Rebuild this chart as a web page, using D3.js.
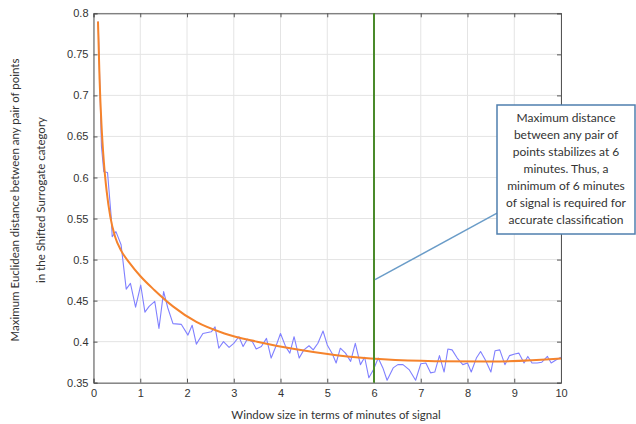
<!DOCTYPE html>
<html><head><meta charset="utf-8">
<script src="https://cdn.jsdelivr.net/npm/d3@7"></script>
<style>body{margin:0;background:#fff}svg{display:block}</style>
</head><body><svg id="c" width="636" height="424"></svg>
<script>
const blueX = [0.10,0.17,0.22,0.30,0.38,0.40,0.48,0.59,0.70,0.79,0.90,1.01,1.10,1.19,1.31,1.40,1.50,1.59,1.70,1.88,2.02,2.11,2.20,2.34,2.52,2.60,2.68,2.78,2.90,3.00,3.11,3.20,3.29,3.40,3.48,3.59,3.70,3.80,3.90,4.00,4.11,4.20,4.29,4.40,4.50,4.61,4.70,4.80,4.91,5.00,5.11,5.19,5.28,5.39,5.50,5.60,5.71,5.80,5.89,5.99,6.09,6.19,6.28,6.41,6.51,6.62,6.75,6.89,7.00,7.11,7.21,7.30,7.40,7.50,7.58,7.67,7.78,7.90,8.00,8.08,8.19,8.28,8.38,8.50,8.59,8.69,8.80,8.90,9.01,9.10,9.21,9.29,9.38,9.49,9.59,9.71,9.79,9.90,10.00];
const blueY = [0.790,0.638,0.607,0.606,0.551,0.528,0.534,0.518,0.464,0.471,0.442,0.469,0.436,0.443,0.449,0.416,0.461,0.441,0.422,0.421,0.408,0.420,0.397,0.410,0.412,0.418,0.392,0.400,0.393,0.398,0.406,0.394,0.403,0.400,0.391,0.394,0.404,0.380,0.394,0.410,0.394,0.386,0.406,0.380,0.390,0.395,0.390,0.398,0.413,0.396,0.385,0.374,0.392,0.386,0.376,0.398,0.372,0.381,0.356,0.366,0.380,0.368,0.353,0.368,0.372,0.372,0.366,0.353,0.373,0.374,0.362,0.363,0.383,0.363,0.391,0.390,0.380,0.372,0.374,0.363,0.380,0.388,0.378,0.363,0.389,0.390,0.372,0.383,0.385,0.386,0.374,0.382,0.374,0.374,0.375,0.382,0.374,0.378,0.381];
const fitX = [0.096,0.13,0.17,0.22,0.28,0.36,0.46,0.60,0.77,1.0,1.3,1.7,2.2,2.8,3.5,4.3,5.2,6.2,7.3,8.5,10];
const fitY = [0.790,0.720,0.665,0.620,0.584,0.552,0.528,0.510,0.496,0.480,0.463,0.443,0.424,0.410,0.400,0.391,0.3835,0.3785,0.3762,0.3757,0.3795];
const xTicks = [0,1,2,3,4,5,6,7,8,9,10];
const yTicks = [0.35,0.4,0.45,0.5,0.55,0.6,0.65,0.7,0.75,0.8];
const thresholdX = 6;
const noteLines = ["Maximum distance","between any pair of","points stabilizes at 6","minutes. Thus, a","minimum of 6 minutes","of signal is required for","accurate classification"];
const xLabel = "Window size in terms of minutes of signal";
const yLabel = ["Maximum Euclidean distance between any pair of points","in the Shifted Surrogate category"];

const svg = d3.select("#c");
const L=93.5, R=561, T=13.3, B=382.7;
const x = d3.scaleLinear().domain([0,10]).range([L,R]);
const y = d3.scaleLinear().domain([0.35,0.8]).range([B,T]);

// grid
const g = svg.append("g");
g.selectAll(".gx").data(xTicks).join("line")
 .attr("x1",d=>x(d)).attr("x2",d=>x(d)).attr("y1",T).attr("y2",B)
 .attr("stroke","#e4e4e4").attr("stroke-width",1);
g.selectAll(".gy").data(yTicks).join("line")
 .attr("y1",d=>y(d)).attr("y2",d=>y(d)).attr("x1",L).attr("x2",R)
 .attr("stroke","#e4e4e4").attr("stroke-width",1);

// axes
const axStyle = sel => { sel.select(".domain").attr("stroke","#555"); sel.selectAll(".tick line").attr("stroke","#555");
  sel.selectAll("text").attr("font-family","Liberation Sans, Arial, sans-serif").attr("font-size",11).attr("fill","#333"); };
svg.append("g").attr("transform",`translate(0,${B})`)
 .call(d3.axisBottom(x).tickValues(xTicks).tickSize(-4).tickPadding(7).tickFormat(d3.format("d"))).call(axStyle);
svg.append("g").attr("transform",`translate(0,${T})`)
 .call(d3.axisTop(x).tickValues(xTicks).tickSize(-4).tickFormat("")).call(axStyle);
svg.append("g").attr("transform",`translate(${L},0)`)
 .call(d3.axisLeft(y).tickValues(yTicks).tickSize(-4).tickPadding(5).tickFormat(d=>d3.format("")(+d.toFixed(2)))).call(axStyle);
svg.append("g").attr("transform",`translate(${R},0)`)
 .call(d3.axisRight(y).tickValues(yTicks).tickSize(-4).tickFormat("")).call(axStyle);
svg.selectAll(".domain").attr("stroke-width",1);

// blue data
const blue = blueX.map((v,i)=>[v,blueY[i]]);
svg.append("path").datum(blue)
 .attr("d",d3.line().x(d=>x(d[0])).y(d=>y(d[1])))
 .attr("fill","none").attr("stroke","#8080ff").attr("stroke-width",1.1).attr("stroke-linejoin","round");
// fit
const fit = fitX.map((v,i)=>[v,fitY[i]]);
svg.append("path").datum(fit)
 .attr("d",d3.line().curve(d3.curveMonotoneX).x(d=>x(d[0])).y(d=>y(d[1])))
 .attr("fill","none").attr("stroke","#f5832c").attr("stroke-width",2);
// threshold
svg.append("line").attr("x1",x(thresholdX)).attr("x2",x(thresholdX)).attr("y1",T).attr("y2",B)
 .attr("stroke","#4a8a2a").attr("stroke-width",2);

// annotation leader
svg.append("line").attr("x1",x(thresholdX)+1).attr("y1",y(0.4755)).attr("x2",497).attr("y2",y(0.5565))
 .attr("stroke","#6a9cc8").attr("stroke-width",1.5);
svg.append("rect").attr("x",497).attr("y",105).attr("width",138).attr("height",129)
 .attr("fill","#fff").attr("stroke","#4f7fae").attr("stroke-width",1.5);
svg.append("g").selectAll("text").data(noteLines).join("text")
 .attr("x",566).attr("y",(d,i)=>122+i*17).attr("text-anchor","middle")
 .attr("font-family","Lato, sans-serif").attr("font-size",12).attr("fill","#333").text(d=>d);

// labels
svg.append("text").attr("x",336).attr("y",419).attr("text-anchor","middle")
 .attr("font-family","Lato, sans-serif").attr("font-size",11.5).attr("fill","#333").text(xLabel);
svg.append("g").selectAll("text").data(yLabel).join("text")
 .attr("transform",(d,i)=>`translate(${i===0?19:45},200) rotate(-90)`).attr("text-anchor","middle")
 .attr("font-family","Lato, sans-serif").attr("font-size",11.5).attr("fill","#333").text(d=>d);
</script></body></html>
